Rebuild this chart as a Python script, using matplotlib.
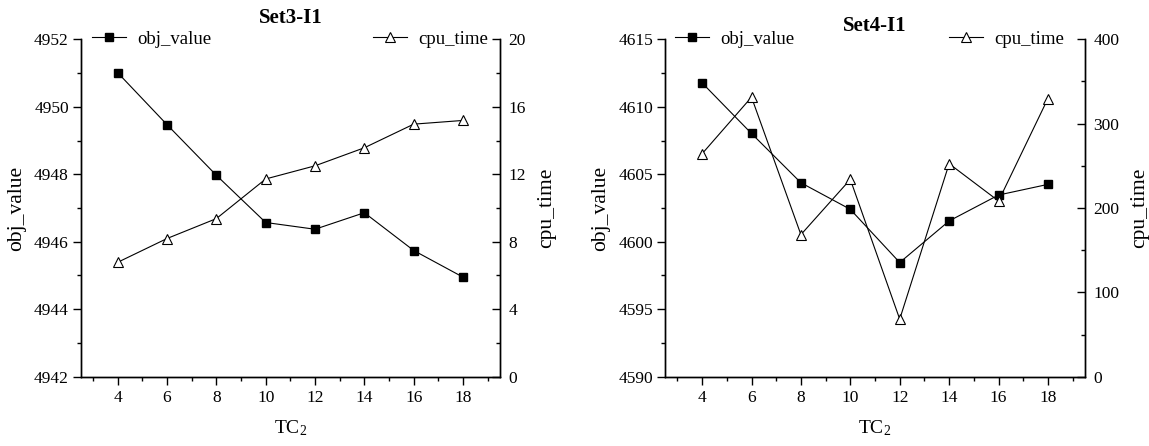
import matplotlib
matplotlib.use("Agg")
import matplotlib.pyplot as plt
from matplotlib.ticker import MultipleLocator

plt.rcParams['font.family'] = ['Liberation Serif', 'DejaVu Serif']
plt.rcParams['mathtext.fontset'] = 'custom'
plt.rcParams['mathtext.rm'] = 'Liberation Serif'
plt.rcParams['mathtext.it'] = 'Liberation Serif:italic'

# Number of TC_2 values tested
tc2 = [4, 6, 8, 10, 12, 14, 16, 18]

# Set3-I1 results
set3_obj = [4951.01, 4949.47, 4947.97, 4946.57, 4946.37, 4946.86, 4945.74, 4944.95]
set3_cpu = [6.78, 8.19, 9.37, 11.72, 12.50, 13.57, 14.97, 15.19]

# Set4-I1 results
set4_obj = [4611.77, 4608.02, 4604.37, 4602.40, 4598.46, 4601.54, 4603.46, 4604.25]
set4_cpu = [264.3, 331.4, 168.4, 233.9, 68.2, 252.5, 208.3, 329.8]

titles = ["Set3-I1", "Set4-I1"]
obj_label = "obj_value"
cpu_label = "cpu_time"
x_label = r"TC$_\mathrm{2}$"

fig = plt.figure(figsize=(11.49, 4.46), dpi=100)

panels = [
    dict(rect=[0.0702, 0.1554, 0.3650, 0.7565], obj=set3_obj, cpu=set3_cpu,
         obj_lim=(4942, 4952), obj_major=2, obj_minor=1,
         cpu_lim=(0, 20), cpu_major=4, cpu_minor=2, title_pad=12,
         leg_l=0.028, leg_r=0.972),
    dict(rect=[0.5788, 0.1554, 0.3655, 0.7565], obj=set4_obj, cpu=set4_cpu,
         obj_lim=(4590, 4615), obj_major=5, obj_minor=2.5,
         cpu_lim=(0, 400), cpu_major=100, cpu_minor=50, title_pad=6,
         leg_l=0.024, leg_r=0.95),
]

for title, p in zip(titles, panels):
    ax = fig.add_axes(p['rect'])
    ax2 = ax.twinx()

    l1, = ax.plot(tc2, p['obj'], color='black', lw=0.8, marker='s',
                  markersize=5.2, markerfacecolor='black', markeredgecolor='black',
                  label=obj_label)
    l2, = ax2.plot(tc2, p['cpu'], color='black', lw=0.8, marker='^',
                   markersize=6.8, markerfacecolor='white', markeredgecolor='black',
                   markeredgewidth=0.8, label=cpu_label)

    ax.set_xlim(2.5, 19.5)
    ax.xaxis.set_major_locator(MultipleLocator(2))
    ax.xaxis.set_minor_locator(MultipleLocator(1))
    ax.set_ylim(*p['obj_lim'])
    ax.yaxis.set_major_locator(MultipleLocator(p['obj_major']))
    ax.yaxis.set_minor_locator(MultipleLocator(p['obj_minor']))
    ax2.set_ylim(*p['cpu_lim'])
    ax2.yaxis.set_major_locator(MultipleLocator(p['cpu_major']))
    ax2.yaxis.set_minor_locator(MultipleLocator(p['cpu_minor']))

    for a in (ax, ax2):
        a.spines['top'].set_visible(False)
        for s in a.spines.values():
            s.set_linewidth(1.0)

    ax.tick_params(axis='both', which='major', direction='out', length=5.5,
                   width=1.0, labelsize=12.5, pad=3)
    ax.tick_params(axis='both', which='minor', direction='out', length=3,
                   width=1.0)
    ax.tick_params(axis='x', pad=4)
    ax2.tick_params(axis='y', which='major', direction='in', length=5.5,
                    width=1.0, labelsize=12.5, pad=6)
    ax2.tick_params(axis='y', which='minor', direction='in', length=3, width=1.0)

    ax.set_ylabel(obj_label, fontsize=15.5, labelpad=6)
    ax2.set_ylabel(cpu_label, fontsize=15.5, labelpad=8)
    ax.set_xlabel(x_label, fontsize=14, labelpad=9)
    ax.set_title(title, fontsize=15, fontweight='bold', pad=p['title_pad'])

    ax.legend(handles=[l1], loc='center left',
              bbox_to_anchor=(p['leg_l'], 1.0), frameon=False,
              fontsize=13.5, borderpad=0, borderaxespad=0,
              handlelength=1.8, handletextpad=0.6)
    ax2.legend(handles=[l2], loc='center right',
               bbox_to_anchor=(p['leg_r'], 1.0), frameon=False,
               fontsize=13.5, borderpad=0, borderaxespad=0,
               handlelength=1.8, handletextpad=0.6)

fig.savefig("out.png", dpi=100)
